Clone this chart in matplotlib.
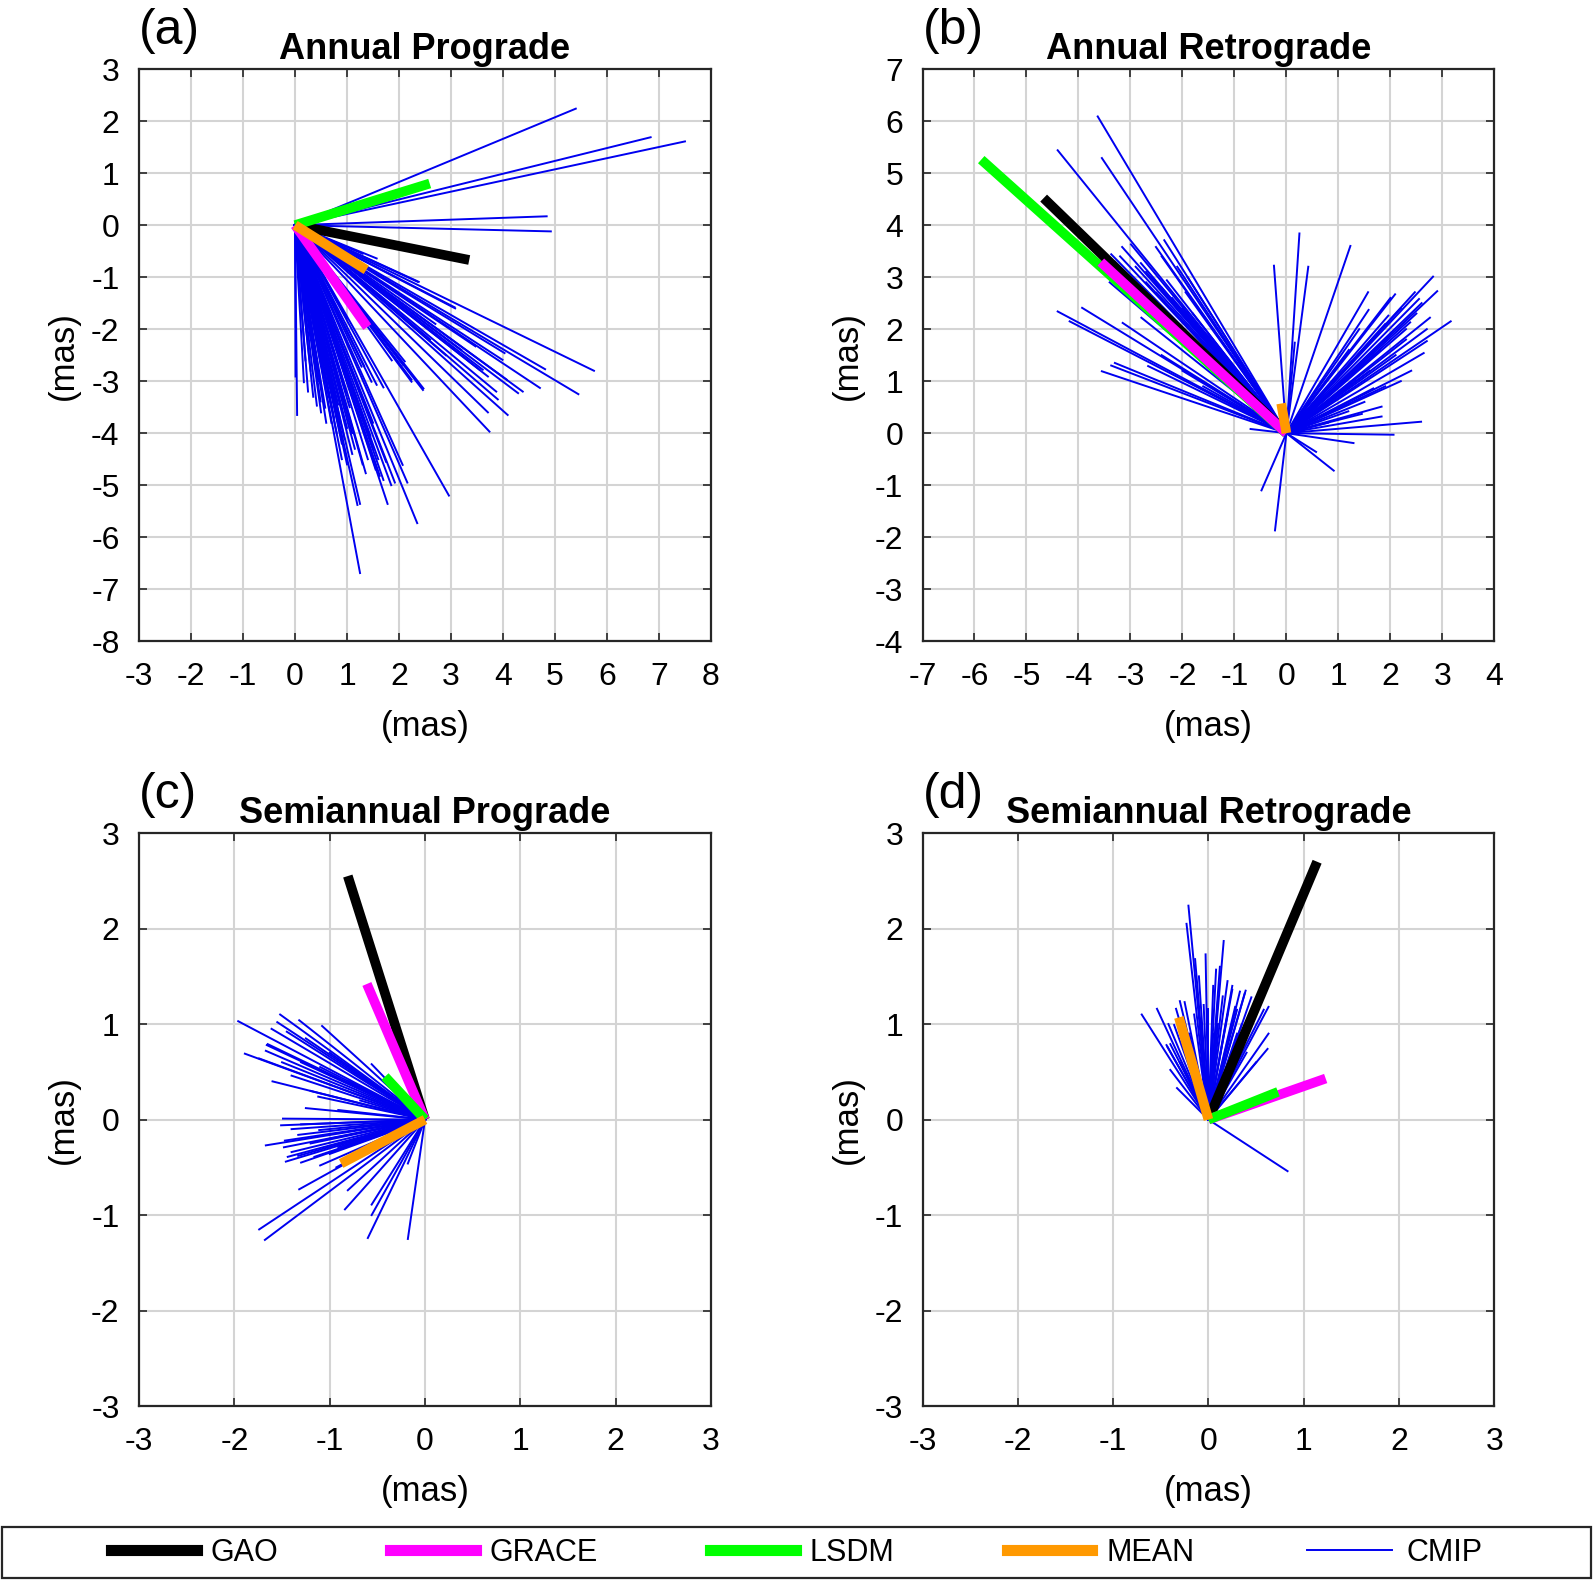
import matplotlib
matplotlib.use("Agg")
from matplotlib import pyplot as plt
from matplotlib.lines import Line2D
from matplotlib.patches import Rectangle

plt.rcParams["font.family"] = ["Liberation Sans", "DejaVu Sans"]
plt.rcParams["axes.unicode_minus"] = False

panels = ["(a)", "(b)", "(c)", "(d)"]
titles = ["Annual Prograde", "Annual Retrograde", "Semiannual Prograde", "Semiannual Retrograde"]
xlims = [(-3, 8), (-7, 4), (-3, 3), (-3, 3)]
ylims = [(-8, 3), (-4, 7), (-3, 3), (-3, 3)]

# phasor end points (mas), one value per panel a..d
gao_x = [3.35, -4.67, -0.81, 1.14]
gao_y = [-0.67, 4.52, 2.55, 2.70]
grace_x = [1.39, -3.57, -0.61, 1.23]
grace_y = [-1.96, 3.29, 1.42, 0.43]
lsdm_x = [2.59, -5.87, -0.42, 0.73]
lsdm_y = [0.80, 5.26, 0.45, 0.29]
mean_x = [1.37, -0.10, -0.88, -0.31]
mean_y = [-0.86, 0.57, -0.46, 1.07]

cmip_a = [
    (5.40, 2.24), (6.84, 1.69), (7.50, 1.61), (4.84, 0.17), (4.92, -0.12),
    (1.57, -0.64), (2.36, -1.09), (3.08, -1.60), (5.75, -2.80), (5.45, -3.25),
    (4.81, -2.77), (4.71, -3.13), (4.38, -3.20), (4.29, -3.23), (3.71, -3.60),
    (3.74, -3.97), (4.09, -3.65), (3.90, -3.35), (3.47, -2.33), (4.03, -2.46),
    (3.55, -2.78), (3.71, -2.91), (3.87, -3.20), (3.07, -1.58), (2.47, -3.14),
    (2.24, -2.97), (2.11, -2.62), (1.86, -2.60), (2.08, -2.69), (2.46, -3.17),
    (2.24, -3.01), (1.70, -3.12), (1.57, -3.07), (1.47, -3.01), (1.28, -2.72),
    (1.33, -2.71), (3.99, -2.59), (4.07, -2.97), (3.61, -2.78), (2.38, -1.09),
    (0.04, -3.65), (0.01, -2.91), (0.17, -3.02), (0.42, -3.47), (0.49, -3.39),
    (0.58, -3.51), (0.66, -3.07), (0.74, -3.13), (0.83, -3.45), (0.99, -3.23),
    (0.38, -2.66), (1.25, -6.69), (1.25, -5.36), (1.36, -4.77), (1.78, -5.36),
    (1.63, -4.82), (1.92, -4.95), (2.16, -4.95), (2.07, -4.61), (2.35, -5.73),
    (2.96, -5.20), (1.20, -5.38), (0.90, -4.20), (1.10, -4.40), (1.00, -3.90),
    (0.80, -4.00), (1.50, -4.30), (1.60, -4.50), (0.70, -3.80), (1.20, -3.60),
    (0.55, -2.90), (0.30, -2.20), (0.60, -2.40), (0.90, -2.60), (1.00, -1.80),
    (0.80, -1.60), (1.30, -0.55), (1.75, -4.55), (1.45, -4.05),
    (0.35, -3.30), (0.45, -3.00), (0.50, -3.60), (0.60, -3.80), (0.65, -3.30),
    (0.70, -3.50), (0.75, -3.70), (0.85, -3.80), (0.95, -4.10), (1.05, -3.50),
    (1.10, -4.00), (1.15, -4.30), (0.50, -2.70), (0.40, -2.50), (0.30, -2.80),
    (0.25, -3.20), (0.20, -2.60), (1.30, -4.60), (1.40, -4.50), (1.55, -4.70),
    (1.00, -4.60), (0.90, -4.50), (1.70, -4.90), (1.85, -5.00), (1.50, -3.80),
    (2.60, -2.20), (2.90, -2.50), (3.20, -2.40), (2.70, -1.90),
]
cmip_b = [
    (-3.63, 6.09), (-4.40, 5.44), (-3.55, 5.29), (-2.35, 3.71), (-2.51, 3.58),
    (-2.99, 3.63), (-3.16, 3.58), (-3.37, 3.44), (-2.80, 3.27), (-2.70, 3.10),
    (-2.30, 2.94), (-1.94, 2.71), (-3.10, 3.00), (-2.50, 2.70), (-2.20, 2.50),
    (-1.80, 2.30), (-1.50, 1.90), (-4.40, 2.34), (-4.17, 2.15), (-3.93, 2.41),
    (-3.15, 2.12), (-2.79, 2.22), (-3.37, 1.30), (-3.55, 1.19), (-2.66, 1.29),
    (-3.30, 1.35), (-2.40, 1.50), (-2.00, 1.20), (-1.60, 0.90), (-0.69, 0.08),
    (0.25, 3.84), (-0.24, 3.22), (0.42, 3.20), (1.23, 3.60), (0.16, 1.74),
    (1.57, 2.71), (2.09, 2.67), (2.82, 3.01), (2.90, 2.73), (2.47, 2.71),
    (2.55, 2.58), (2.76, 2.22), (3.16, 2.15), (2.70, 1.77), (2.64, 1.54),
    (1.58, 2.37), (1.96, 2.26), (2.38, 2.13), (1.67, 0.86), (1.34, 1.01),
    (1.83, 0.51), (1.83, 0.32), (2.59, 0.22), (2.06, -0.03), (1.29, -0.19),
    (0.91, -0.72), (0.57, -0.36), (1.19, 0.42), (1.45, 0.37), (2.20, 2.40),
    (2.50, 2.30), (2.00, 1.90), (2.30, 1.80), (1.80, 1.60), (2.60, 2.50),
    (1.40, 2.00), (1.20, 1.60), (1.00, 0.50), (0.80, 0.20), (2.00, 2.60),
    (1.90, 2.10), (-0.48, -1.10), (-0.22, -1.87),
    (-3.30, 3.30), (-3.00, 3.00), (-2.70, 2.90), (-2.90, 3.20), (-2.60, 3.00),
    (-2.40, 2.80), (-3.20, 3.40), (-2.20, 2.60), (-2.00, 2.40), (-2.80, 2.60),
    (-3.50, 3.10), (-3.40, 2.90), (-2.10, 3.20), (-2.40, 3.40), (-1.90, 3.00),
    (2.30, 2.00), (2.10, 1.50), (1.60, 1.20), (2.40, 1.20), (1.90, 0.90),
    (1.50, 0.60), (2.70, 2.00), (2.20, 1.00),
]
cmip_c = [
    (-1.96, 1.03), (-1.52, 1.10), (-1.32, 1.04), (-1.08, 0.98), (-1.55, 1.02),
    (-1.61, 0.95), (-1.89, 0.69), (-1.66, 0.78), (-1.67, 0.72), (-0.56, 0.58),
    (-1.65, 0.79), (-1.40, 0.46), (-1.74, 0.64), (-1.45, 0.92), (-1.25, 0.85),
    (-1.00, 0.70), (-1.30, 0.60), (-1.10, 0.55), (-1.50, 0.60),
    (-1.67, -0.27), (-1.46, -0.44), (-1.51, -0.06), (-1.49, 0.01), (-1.25, 0.12),
    (-1.12, 0.24), (-1.44, -0.39), (-1.48, -0.29), (-1.40, -0.34), (-1.33, -0.38),
    (-1.16, -0.39), (-1.47, -0.22), (-1.00, -0.36), (-0.91, -0.29), (-1.33, -0.16),
    (-1.11, -0.11), (-0.91, 0.10), (-0.68, 0.20), (-1.30, -0.05), (-1.20, -0.25),
    (-1.74, -1.15), (-1.68, -1.26), (-1.32, -0.73), (-0.81, -0.74), (-0.84, -0.94),
    (-0.56, -1.00), (-0.60, -1.24), (-0.18, -1.25), (-0.56, -0.89), (-0.18, -0.46),
    (-0.93, -0.50), (-1.20, 0.30), (-1.40, -0.10), (-1.00, -0.20), (-1.60, 0.40),
    (-0.80, 0.40), (-1.30, -0.45), (-1.10, -0.48),
]
cmip_d = [
    (-0.21, 2.24), (-0.23, 2.05), (0.16, 1.87), (-0.03, 1.73), (-0.14, 1.68),
    (0.08, 1.57), (0.25, 1.36), (0.38, 1.32), (0.33, 1.34), (0.15, 1.29),
    (0.00, 1.16), (0.63, 1.18), (0.58, 1.15), (0.63, 0.90), (0.62, 0.74),
    (-0.70, 1.10), (-0.54, 1.16), (-0.30, 1.24), (-0.25, 1.23), (-0.34, 1.16),
    (-0.42, 1.00), (-0.40, 0.79), (-0.40, 0.52), (-0.33, 0.33), (-0.44, 0.78),
    (0.45, 1.28), (0.39, 1.35), (0.25, 1.40), (-0.43, 0.76), (-0.36, 0.99),
    (0.83, -0.54), (0.05, 1.40), (-0.10, 1.50), (0.20, 1.10), (0.10, 1.00),
    (-0.05, 1.20), (0.30, 0.90), (0.40, 0.70), (0.50, 0.60), (-0.20, 0.90),
    (0.28, 1.18), (0.10, 1.25), (0.20, 1.45), (0.12, 1.60), (-0.08, 1.05),
    (0.30, 1.15), (0.35, 1.00), (-0.15, 1.10), (0.05, 0.90), (-0.30, 0.60),
    (-0.25, 0.80),
]
cmip_all = [cmip_a, cmip_b, cmip_c, cmip_d]

positions = [
    [0.0873, 0.5947, 0.359, 0.3616],
    [0.5791, 0.5947, 0.359, 0.3616],
    [0.0873, 0.1112, 0.359, 0.3622],
    [0.5791, 0.1112, 0.359, 0.3622],
]
lsdm_z = [3.1, 2.9, 3.1, 3.1]   # LSDM sits under GAO/GRACE only in (b)

fig = plt.figure(figsize=[15.93, 15.82], dpi=100)

for i in range(4):
    ax = fig.add_axes(positions[i])
    for x, y in cmip_all[i]:
        ax.plot([0, x], [0, y], color="#0000f0", lw=1.4, zorder=2)
    ax.plot([0, gao_x[i]], [0, gao_y[i]], color="black", lw=7, solid_capstyle="butt", zorder=3)
    ax.plot([0, grace_x[i]], [0, grace_y[i]], color="#ff00ff", lw=7, solid_capstyle="butt", zorder=3)
    ax.plot([0, lsdm_x[i]], [0, lsdm_y[i]], color="#00ff00", lw=7, solid_capstyle="butt", zorder=lsdm_z[i])
    ax.plot([0, mean_x[i]], [0, mean_y[i]], color="#ff9900", lw=7, solid_capstyle="butt", zorder=3.2)

    ax.set_xlim(xlims[i])
    ax.set_ylim(ylims[i])
    ax.set_xticks(range(xlims[i][0], xlims[i][1] + 1))
    ax.set_yticks(range(ylims[i][0], ylims[i][1] + 1))
    ax.grid(True, color="#d4d4d4", lw=1.5, zorder=0)
    ax.set_axisbelow(True)
    ax.tick_params(direction="in", top=True, right=True, length=6, width=1.2,
                   labelsize=23, color="#262626")
    ax.tick_params(axis="x", pad=15)
    ax.tick_params(axis="y", pad=14)
    for s in ax.spines.values():
        s.set_linewidth(1.6)
        s.set_color("#262626")
    ax.set_xlabel("(mas)", fontsize=25, labelpad=13)
    ax.set_ylabel("(mas)", fontsize=25, labelpad=8)
    ax.set_title(titles[i], fontsize=26, fontweight="bold", pad=7)
    fig.text(positions[i][0], positions[i][1] + positions[i][3] + 0.024, panels[i],
             fontsize=36, ha="left", va="center")

fig.patches.append(Rectangle((0.0013, 0.0025), 0.9975, 0.032, transform=fig.transFigure,
                             fill=False, edgecolor="#262626", lw=1.6))
handles = [
    Line2D([], [], color="black", lw=8),
    Line2D([], [], color="#ff00ff", lw=8),
    Line2D([], [], color="#00ff00", lw=8),
    Line2D([], [], color="#ff9900", lw=8),
    Line2D([], [], color="#0000f0", lw=1.4),
]
fig.legend(handles, ["GAO", "GRACE", "LSDM", "MEAN", "CMIP"], ncol=5, mode="expand",
           bbox_to_anchor=(0.062, 0.0025, 0.876, 0.032), loc="center", frameon=False,
           fontsize=22, handlelength=2.8, handletextpad=0.45, borderaxespad=0)

plt.savefig("out.png", dpi=100)
